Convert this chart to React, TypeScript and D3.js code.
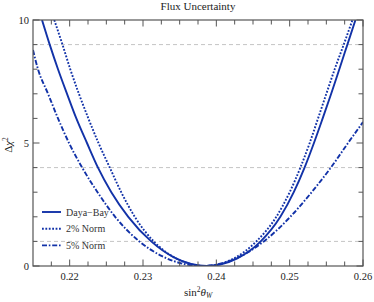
import React from 'react';
import * as d3 from 'd3';

// sin^2 theta_W positions and Delta chi^2 values
const xDayaBay = [0.21623, 0.21728, 0.21841, 0.21964, 0.22091, 0.22236, 0.22386, 0.22568, 0.22799, 0.23112, 0.23422, 0.23656, 0.2387, 0.24053, 0.24279, 0.24605, 0.24873, 0.25056, 0.25203, 0.25331, 0.2545, 0.25566, 0.25677, 0.25787, 0.25897];
const yDayaBay = [10, 9, 8, 7, 6, 5, 4, 3, 2, 1, 0.35, 0.08, 0, 0.06, 0.3, 1, 2, 3, 4, 5, 6, 7, 8, 9, 10];

const xNorm2 = [0.2179, 0.21902, 0.22008, 0.22126, 0.22255, 0.22393, 0.22547, 0.22703, 0.22888, 0.23146, 0.23427, 0.23648, 0.2385, 0.2402, 0.24233, 0.24546, 0.24818, 0.25, 0.25146, 0.25273, 0.25387, 0.255, 0.25614, 0.25737, 0.25856];
const yNorm2 = [10, 9, 8, 7, 6, 5, 4, 3, 2, 1, 0.35, 0.08, 0, 0.06, 0.3, 1, 2, 3, 4, 5, 6, 7, 8, 9, 10];

const xNorm5 = [0.215, 0.21568, 0.21705, 0.21841, 0.21991, 0.2217, 0.2238, 0.2262, 0.2295, 0.2326, 0.2356, 0.238, 0.24008, 0.24264, 0.24647, 0.25009, 0.253, 0.25562, 0.25796, 0.26];
const yNorm5 = [8.78, 8, 7, 6, 5, 4, 3, 2, 1, 0.4, 0.08, 0, 0.06, 0.3, 1, 2, 3, 4, 5, 5.85];

const xTicks = [0.22, 0.23, 0.24, 0.25, 0.26];
const yTicks = [0, 5, 10];
const gridLevels = [1, 4, 9];

const seriesNames = ['Daya\u2212Bay', '2% Norm', '5% Norm'];
const dashes = ['none', '1.8,1.6', '5,1.8,1.6,1.8'];

const W = 374, H = 302;
const margin = { top: 20, right: 11, bottom: 36, left: 33 };
const font = "'Liberation Serif', 'DejaVu Serif', serif";

export default function App() {
  const iw = W - margin.left - margin.right;
  const ih = H - margin.top - margin.bottom;
  const x = d3.scaleLinear().domain([0.215, 0.26]).range([0, iw]);
  const y = d3.scaleLinear().domain([0, 10]).range([ih, 0]);

  const line = d3.line<[number, number]>()
    .x((d) => x(d[0]))
    .y((d) => y(d[1]))
    .curve(d3.curveMonotoneX);

  const series = [
    d3.zip(xDayaBay, yDayaBay) as [number, number][],
    d3.zip(xNorm2, yNorm2) as [number, number][],
    d3.zip(xNorm5, yNorm5) as [number, number][],
  ];

  const xMinor = d3.range(0.2175, 0.2601, 0.0025);
  const yMinor = d3.range(0, 10.01, 1);
  const color = '#1232a8';
  const axisColor = '#555';

  return (
    <svg width={W} height={H} style={{ position: 'absolute', left: 0, top: 0, fontFamily: font }}>
      <text x={margin.left + iw / 2} y={10} textAnchor="middle" fontSize={11} fill="#222" style={{ fontFamily: font }}>Flux Uncertainty</text>
      <g transform={`translate(${margin.left},${margin.top})`}>
        <defs>
          <clipPath id="plot"><rect x={0} y={0} width={iw} height={ih} /></clipPath>
        </defs>
        {gridLevels.map((g) => (
          <line key={g} x1={0} x2={iw} y1={y(g)} y2={y(g)} stroke="#c4c4c4" strokeWidth={1} strokeDasharray="4,3" />
        ))}
        <g clipPath="url(#plot)">
          {series.map((s, i) => (
            <path key={i} d={line(s) || ''} fill="none" stroke={color} strokeWidth={1.9} strokeDasharray={dashes[i]} />
          ))}
        </g>
        {/* ticks on all four sides */}
        {xMinor.map((t, i) => {
          const major = xTicks.some((m) => Math.abs(m - t) < 1e-6);
          const len = major ? 6.5 : 4.5;
          return (
            <g key={i}>
              <line x1={x(t)} x2={x(t)} y1={ih} y2={ih - len} stroke={axisColor} />
              <line x1={x(t)} x2={x(t)} y1={0} y2={len} stroke={axisColor} />
            </g>
          );
        })}
        {yMinor.map((t, i) => {
          const major = yTicks.includes(t);
          const len = major ? 6.5 : 4.5;
          return (
            <g key={i}>
              <line x1={0} x2={len} y1={y(t)} y2={y(t)} stroke={axisColor} />
              <line x1={iw} x2={iw - len} y1={y(t)} y2={y(t)} stroke={axisColor} />
            </g>
          );
        })}
        <rect x={0} y={0} width={iw} height={ih} fill="none" stroke={axisColor} strokeWidth={1.2} />
        {xTicks.map((t) => (
          <text key={t} x={x(t)} y={ih + 14} textAnchor="middle" fontSize={10.5} fill="#222" style={{ fontFamily: font }}>{t.toFixed(2)}</text>
        ))}
        {yTicks.map((t) => (
          <text key={t} x={-4} y={y(t) + 3.5} textAnchor="end" fontSize={10.5} fill="#222" style={{ fontFamily: font }}>{t}</text>
        ))}
        <text x={iw / 2} y={ih + 30} textAnchor="middle" fontSize={11} fill="#222" style={{ fontFamily: font }}>
          sin<tspan dy={-4} fontSize={7.5}>2</tspan><tspan dy={4} fontStyle="italic">θ</tspan><tspan dy={2} fontSize={7.5} fontStyle="italic">W</tspan>
        </text>
        <text transform={`translate(${-21},${ih / 2 + 2}) rotate(-90)`} textAnchor="middle" fontSize={11} fill="#222" style={{ fontFamily: font }}>
          Δ<tspan fontStyle="italic">χ</tspan><tspan dy={-4} fontSize={7.5}>2</tspan>
        </text>
        {/* legend */}
        {seriesNames.map((n, i) => (
          <g key={n} transform={`translate(9,${192 + i * 16.7})`}>
            <line x1={0} x2={19} y1={0} y2={0} stroke={color} strokeWidth={1.9} strokeDasharray={dashes[i]} />
            <text x={24} y={3.5} fontSize={10} fill="#333" style={{ fontFamily: font }}>{n}</text>
          </g>
        ))}
      </g>
    </svg>
  );
}
